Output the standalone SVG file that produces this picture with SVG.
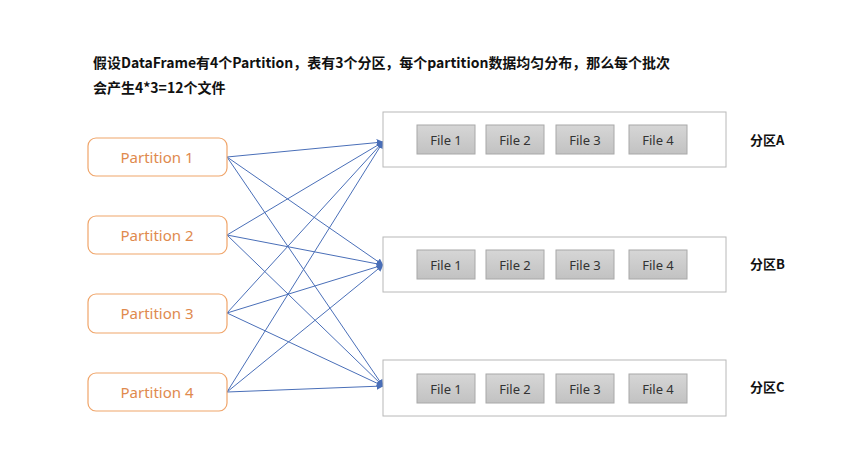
<svg xmlns="http://www.w3.org/2000/svg" width="844" height="470" viewBox="0 0 844 470">
<style>
.title{font-family:"Noto Sans CJK SC","Liberation Sans",sans-serif;font-size:14px;font-weight:bold;fill:#111}
.pbox{fill:#fff;stroke:#f0a56a;stroke-width:1.2}
.ptext{font-family:"Noto Sans","Liberation Sans",sans-serif;font-size:15px;fill:#e08a4e;text-anchor:middle;dominant-baseline:central}
.zone{fill:#fff;stroke:#b8b8b8;stroke-width:1}
.file{fill:url(#fg);stroke:#a8a8a8;stroke-width:1}
.ftext{font-family:"Noto Sans","Liberation Sans",sans-serif;font-size:13px;fill:#333;text-anchor:middle;dominant-baseline:central}
.zlabel{font-family:"Noto Sans CJK SC","Liberation Sans",sans-serif;font-size:13px;font-weight:bold;fill:#111;dominant-baseline:central}
.conn line{stroke:#4a6fb8;stroke-width:1;marker-end:url(#arr)}
</style>
<defs>
<linearGradient id="fg" x1="0" y1="0" x2="0" y2="1">
<stop offset="0" stop-color="#d6d6d6"/>
<stop offset="1" stop-color="#c2c2c2"/>
</linearGradient>
<marker id="arr" viewBox="0 0 10 10" refX="9" refY="5" markerWidth="7" markerHeight="7" markerUnits="userSpaceOnUse" orient="auto">
<path d="M0,0 L10,5 L0,10 z" fill="#4a6fb8"/>
</marker>
</defs>
<rect width="844" height="470" fill="#fff"/>
<g id="title">
<text class="title" x="93" y="68" textLength="577" lengthAdjust="spacingAndGlyphs">假设DataFrame有4个Partition，表有3个分区，每个partition数据均匀分布，那么每个批次</text>
<text class="title" x="93" y="93">会产生4*3=12个文件</text>
</g>
<g class="conn" id="connectors">
<line x1="227" y1="157" x2="383" y2="142"/>
<line x1="227" y1="157" x2="383" y2="265"/>
<line x1="227" y1="157" x2="383" y2="386"/>
<line x1="227" y1="235" x2="383" y2="142"/>
<line x1="227" y1="235" x2="383" y2="265"/>
<line x1="227" y1="235" x2="383" y2="386"/>
<line x1="227" y1="313" x2="383" y2="142"/>
<line x1="227" y1="313" x2="383" y2="265"/>
<line x1="227" y1="313" x2="383" y2="386"/>
<line x1="227" y1="392" x2="383" y2="142"/>
<line x1="227" y1="392" x2="383" y2="265"/>
<line x1="227" y1="392" x2="383" y2="386"/>
</g>
<g id="p1"><rect class="pbox" x="88" y="138" width="139" height="38" rx="8"/><text class="ptext" x="157" y="157">Partition 1</text></g>
<g id="p2"><rect class="pbox" x="88" y="216" width="139" height="38" rx="8"/><text class="ptext" x="157" y="235">Partition 2</text></g>
<g id="p3"><rect class="pbox" x="88" y="294" width="139" height="39" rx="8"/><text class="ptext" x="157" y="313">Partition 3</text></g>
<g id="p4"><rect class="pbox" x="88" y="373" width="139" height="38" rx="8"/><text class="ptext" x="157" y="392">Partition 4</text></g>
<g id="zoneA">
<rect class="zone" x="383" y="112" width="343" height="55"/>
<rect class="file" x="417" y="125" width="58" height="29"/><text class="ftext" x="446" y="140">File 1</text>
<rect class="file" x="486" y="125" width="58" height="29"/><text class="ftext" x="515" y="140">File 2</text>
<rect class="file" x="556" y="125" width="58" height="29"/><text class="ftext" x="585" y="140">File 3</text>
<rect class="file" x="629" y="125" width="58" height="29"/><text class="ftext" x="658" y="140">File 4</text>
<text class="zlabel" x="750" y="139">分区A</text>
</g>
<g id="zoneB">
<rect class="zone" x="383" y="237" width="343" height="55"/>
<rect class="file" x="417" y="250" width="58" height="29"/><text class="ftext" x="446" y="265">File 1</text>
<rect class="file" x="486" y="250" width="58" height="29"/><text class="ftext" x="515" y="265">File 2</text>
<rect class="file" x="556" y="250" width="58" height="29"/><text class="ftext" x="585" y="265">File 3</text>
<rect class="file" x="629" y="250" width="58" height="29"/><text class="ftext" x="658" y="265">File 4</text>
<text class="zlabel" x="750" y="263">分区B</text>
</g>
<g id="zoneC">
<rect class="zone" x="383" y="360" width="343" height="56"/>
<rect class="file" x="417" y="374" width="58" height="29"/><text class="ftext" x="446" y="389">File 1</text>
<rect class="file" x="486" y="374" width="58" height="29"/><text class="ftext" x="515" y="389">File 2</text>
<rect class="file" x="556" y="374" width="58" height="29"/><text class="ftext" x="585" y="389">File 3</text>
<rect class="file" x="629" y="374" width="58" height="29"/><text class="ftext" x="658" y="389">File 4</text>
<text class="zlabel" x="750" y="386">分区C</text>
</g>
</svg>
